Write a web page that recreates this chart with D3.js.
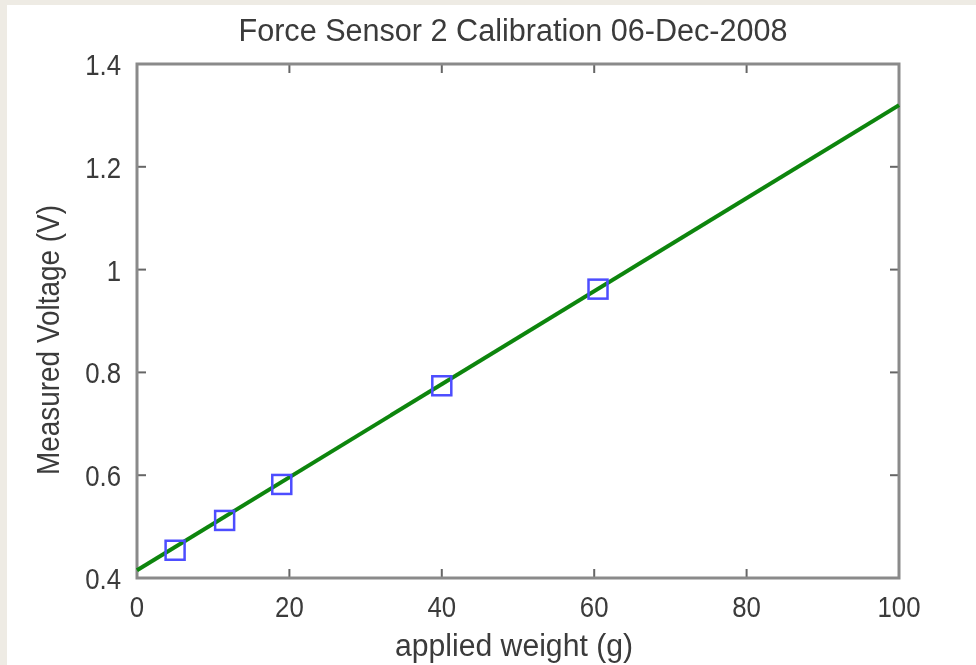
<!DOCTYPE html>
<html><head><meta charset="utf-8">
<script src="https://cdn.jsdelivr.net/npm/d3@7"></script>
<style>
html,body{margin:0;padding:0;background:#fff;}
svg{display:block;}
text{font-family:"Liberation Sans",Arial,sans-serif;fill:#3a3a3a;}
</style></head><body>
<script>
const title = "Force Sensor 2 Calibration 06-Dec-2008";
const xLabel = "applied weight (g)";
const yLabel = "Measured Voltage (V)";
const weights = [5, 11.5, 19, 40, 60.5];
const voltages = [0.454, 0.512, 0.582, 0.774, 0.962];
const fitX = [0, 100];
const fitY = [0.415, 1.32];
const xTicks = [0, 20, 40, 60, 80, 100];
const yTicks = [0.4, 0.6, 0.8, 1.0, 1.2, 1.4];
const yTickLabels = ["0.4", "0.6", "0.8", "1", "1.2", "1.4"];

const W = 976, H = 665;
const L = 137, R = 899, T = 64, B = 578;
const svg = d3.select("body").append("svg").attr("width", W).attr("height", H);
const defs = svg.append("defs");
defs.append("filter").attr("id", "soft").attr("x", "-5%").attr("y", "-5%").attr("width", "110%").attr("height", "110%")
  .append("feGaussianBlur").attr("stdDeviation", 0.6);

svg.append("rect").attr("width", W).attr("height", H).attr("fill", "#eeebe4");
svg.append("rect").attr("x", 7).attr("y", 5).attr("width", W - 7).attr("height", H - 5).attr("fill", "#fff");

const g = svg.append("g").attr("filter", "url(#soft)");
const x = d3.scaleLinear().domain([0, 100]).range([L, R]);
const y = d3.scaleLinear().domain([0.4, 1.4]).range([B, T]);

const sx = 0.86; // condensed glyphs
function label(px, py, txt, anchor, size) {
  g.append("text").attr("transform", `translate(${px},${py}) scale(${sx},1)`)
    .attr("text-anchor", anchor).attr("font-size", size).text(txt);
}

const tk = 9;
xTicks.forEach(v => {
  g.append("line").attr("x1", x(v)).attr("x2", x(v)).attr("y1", B).attr("y2", B - tk).attr("stroke", "#666").attr("stroke-width", 2);
  g.append("line").attr("x1", x(v)).attr("x2", x(v)).attr("y1", T).attr("y2", T + tk).attr("stroke", "#666").attr("stroke-width", 2);
  label(x(v), B + 39, v, "middle", 30);
});
yTicks.forEach((v, i) => {
  g.append("line").attr("x1", L).attr("x2", L + tk).attr("y1", y(v)).attr("y2", y(v)).attr("stroke", "#666").attr("stroke-width", 2);
  g.append("line").attr("x1", R).attr("x2", R - tk).attr("y1", y(v)).attr("y2", y(v)).attr("stroke", "#666").attr("stroke-width", 2);
  label(L - 16, y(v) + 11, yTickLabels[i], "end", 30);
});

g.append("rect").attr("x", L).attr("y", T).attr("width", R - L).attr("height", B - T)
  .attr("fill", "none").attr("stroke", "#8a8a8a").attr("stroke-width", 3);

const line = d3.line().x(d => x(d[0])).y(d => y(d[1]));
g.append("path").attr("d", line(fitX.map((v, i) => [v, fitY[i]])))
  .attr("fill", "none").attr("stroke", "#0a850a").attr("stroke-width", 4);

const s = 19;
g.selectAll(".pt").data(weights).enter().append("rect")
  .attr("x", d => x(d) - s / 2).attr("y", (d, i) => y(voltages[i]) - s / 2)
  .attr("width", s).attr("height", s).attr("fill", "none")
  .attr("stroke", "#4d4dff").attr("stroke-width", 2.5);

g.append("text").attr("x", 513).attr("y", 41).attr("text-anchor", "middle").attr("font-size", 31)
  .attr("textLength", 549).attr("lengthAdjust", "spacingAndGlyphs").text(title);
g.append("text").attr("x", 514).attr("y", 656).attr("text-anchor", "middle").attr("font-size", 31)
  .attr("textLength", 238).attr("lengthAdjust", "spacingAndGlyphs").text(xLabel);
g.append("text").attr("transform", "translate(59,340) rotate(-90)").attr("text-anchor", "middle").attr("font-size", 31)
  .attr("textLength", 270).attr("lengthAdjust", "spacingAndGlyphs").text(yLabel);
</script>
</body></html>
